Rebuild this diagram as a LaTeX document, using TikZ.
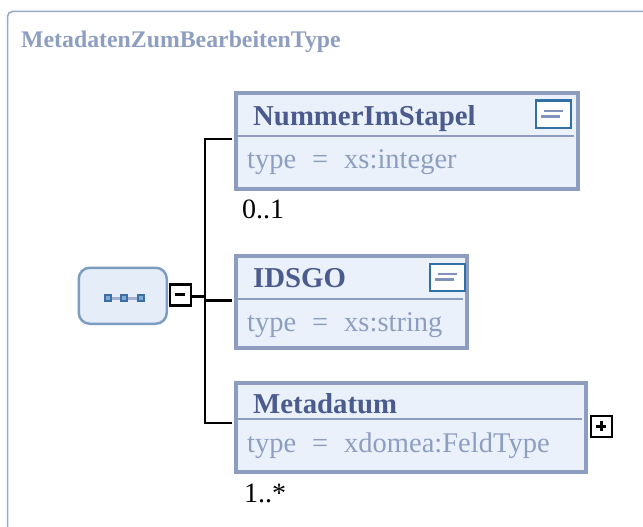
\documentclass[tikz,border=0pt]{standalone}
\usepackage{fontspec}
\usetikzlibrary{calc}
\setmainfont{Liberation Serif}
\definecolor{frameC}{HTML}{98A8C6}
\definecolor{borderC}{HTML}{8C9DBF}
\definecolor{fillC}{HTML}{EAF1FB}
\definecolor{nameC}{HTML}{4B5B8E}
\definecolor{typeC}{HTML}{8E9EC0}
\definecolor{seqFill}{HTML}{E5EEF8}
\definecolor{seqBorder}{HTML}{7C9DC2}
\definecolor{iconC}{HTML}{3271A8}
\definecolor{iconLine}{HTML}{7F92C0}
\definecolor{sqC}{HTML}{3A6EA5}
\definecolor{sqIn}{HTML}{7FAAD4}
\definecolor{dashC}{HTML}{A3AED2}
\tikzset{
  elbox/.style={draw=borderC, line width=4pt, fill=fillC, inner sep=0pt, anchor=north west},
  divider/.style={draw=borderC, line width=2.5pt},
  nametext/.style={text=nameC, font=\fontsize{28.8}{30}\selectfont\bfseries, inner sep=0pt, anchor=base west},
  typetext/.style={text=typeC, font=\fontsize{28.5}{30}\selectfont, inner sep=0pt, anchor=base west},
  cardtext/.style={text=black, font=\fontsize{28}{30}\selectfont, inner sep=0pt, anchor=base west},
  docicon/.style={draw=iconC, line width=2.8pt, fill=white, inner sep=0pt, minimum width=35pt, minimum height=27pt, anchor=north west},
  iconbar/.style={draw=iconLine, line width=2.4pt},
  togglebox/.style={draw=black, line width=2.5pt, fill=white, inner sep=0pt, minimum width=21pt, minimum height=21pt, anchor=north west},
  connector/.style={draw=black, line width=2.5pt},
  seqsq/.style={draw=sqC, fill=sqIn, line width=2.5pt, inner sep=0pt, minimum size=6pt},
}
\begin{document}
\begin{tikzpicture}[x=1pt,y=-1pt]
\useasboundingbox (0,0) rectangle (643,527);
% outer frame
\draw[draw=frameC, line width=1.5pt, fill=white, rounded corners=5pt] (7.5,11.5) rectangle (700,600);
\node[text=typeC, font=\fontsize{23.8}{26}\selectfont\bfseries, inner sep=0pt, anchor=base west] (title) at (21,48) {MetadatenZumBearbeitenType};

% sequence compositor
\node[draw=seqBorder, line width=2.5pt, fill=seqFill, rounded corners=11pt, minimum width=88pt, minimum height=56pt, inner sep=0pt, anchor=north west] (seq) at (77.5,266.5) {};
\node[seqsq] (sq1) at (108,298) {};
\node[seqsq] (sq2) at (124,298) {};
\node[seqsq] (sq3) at (141,298) {};
\draw[draw=dashC, line width=3pt] (sq1.east) -- (sq2.west);
\draw[draw=dashC, line width=3pt] (sq2.east) -- (sq3.west);
\node[togglebox] (minus) at (168.5,283) {};
\draw[line width=2.8pt] ($(minus.center)+(-5,0)$) -- ($(minus.center)+(5,0)$);

% element boxes
\node[elbox, minimum width=342pt, minimum height=96pt] (b1) at (234,91) {};
\draw[divider] (236,136) -- (574,136);
\node[nametext] (n1) at (253,125) {NummerImStapel};
\node[typetext] (t1) at (247,168) {type\hspace{0.56em}=\hspace{0.56em}xs:integer};
\node[docicon] (i1) at (534.5,99.5) {};
\draw[iconbar] (544,111) -- (563,111);
\draw[iconbar] (541,116.5) -- (560,116.5);
\node[cardtext] (c1) at (242,218) {0..1};

\node[elbox, minimum width=231pt, minimum height=92pt] (b2) at (234,254) {};
\draw[divider] (236,299) -- (463,299);
\node[nametext] (n2) at (253,287) {IDSGO};
\node[typetext] (t2) at (247,331) {type\hspace{0.56em}=\hspace{0.56em}xs:string};
\node[docicon] (i2) at (428.5,262.5) {};
\draw[iconbar] (438,274) -- (457,274);
\draw[iconbar] (435,279.5) -- (454,279.5);

\node[elbox, minimum width=350pt, minimum height=89pt] (b3) at (234,381) {};
\draw[divider] (236,419) -- (582,419);
\node[nametext] (n3) at (253,413) {Metadatum};
\node[typetext] (t3) at (247,452) {type\hspace{0.56em}=\hspace{0.56em}xdomea:FeldType};
\node[togglebox] (plus) at (589.5,414.5) {};
\draw[line width=2.8pt] ($(plus.center)+(-5,0)$) -- ($(plus.center)+(5,0)$);
\draw[line width=2.8pt] ($(plus.center)+(0,-5)$) -- ($(plus.center)+(0,5)$);
\node[cardtext] (c3) at (244,502) {1..*};

% connectors
\coordinate (trunk) at (205,296.5);
\coordinate (in1) at (232,139);
\coordinate (in2) at (232,300.5);
\coordinate (in3) at (232,423);
\draw[connector] (minus.east |- trunk) -- (trunk);
\draw[connector] (in1) -| (trunk) |- (in3);
\draw[connector] (trunk |- in2) -- (in2);
\end{tikzpicture}
\end{document}
